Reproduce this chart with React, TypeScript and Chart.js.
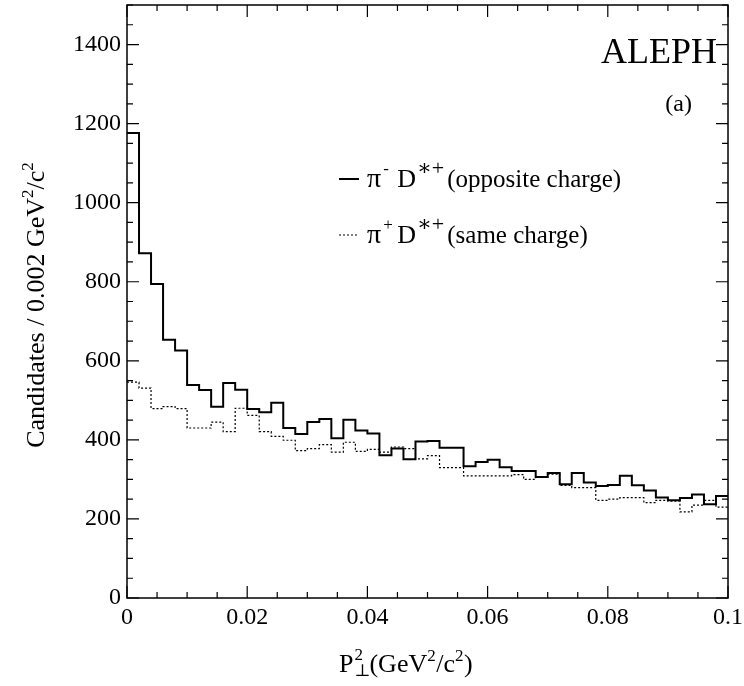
import React, { useEffect, useRef } from "react";
import { Chart, registerables } from "chart.js";
Chart.register(...registerables);

const binEdges: number[] = Array.from({ length: 50 }, (_, i) => +(i * 0.002).toFixed(3));
const oppositeCharge = [1176, 872, 794, 653, 626, 539, 526, 484, 544, 527, 478, 470, 494, 430, 415, 445, 453, 404, 451, 424, 416, 361, 378, 351, 396, 397, 380, 380, 333, 344, 350, 331, 321, 321, 306, 316, 288, 316, 292, 283, 286, 309, 285, 272, 254, 247, 253, 262, 237, 258];
const sameCharge = [546, 531, 479, 484, 479, 430, 430, 445, 421, 480, 462, 421, 409, 399, 373, 378, 388, 369, 394, 371, 376, 369, 382, 378, 352, 360, 330, 330, 309, 309, 309, 309, 312, 300, 306, 313, 285, 279, 279, 247, 250, 254, 254, 241, 247, 245, 218, 235, 247, 230];
const xTicks = [0, 0.02, 0.04, 0.06, 0.08, 0.1];
const xTickLabels = ["0", "0.02", "0.04", "0.06", "0.08", "0.1"];
const yTicks = [0, 200, 400, 600, 800, 1000, 1200, 1400];

const pts = (vals: number[]) => [...vals.map((v, i) => ({ x: binEdges[i], y: v })), { x: 0.1, y: vals[vals.length - 1] }];
const FONT = '"Liberation Serif", "DejaVu Serif", serif';

const deco = {
  id: "deco",
  afterDraw(chart: any) {
    const { ctx, chartArea: a, scales } = chart;
    const xs = scales.x, ys = scales.y;
    ctx.save();
    ctx.strokeStyle = "#000";
    ctx.fillStyle = "#000";
    ctx.lineWidth = 1.5;
    ctx.strokeRect(a.left, a.top, a.right - a.left, a.bottom - a.top);
    ctx.lineWidth = 1.2;
    for (let v = 0; v <= 1500; v += 50) {
      const y = ys.getPixelForValue(v);
      const L = v % 200 === 0 ? 12 : 6;
      ctx.beginPath(); ctx.moveTo(a.left, y); ctx.lineTo(a.left + L, y);
      ctx.moveTo(a.right, y); ctx.lineTo(a.right - L, y); ctx.stroke();
    }
    for (let i = 0; i <= 20; i++) {
      const v = i * 0.005;
      const x = xs.getPixelForValue(v);
      const L = i % 4 === 0 ? 12 : 6;
      ctx.beginPath(); ctx.moveTo(x, a.bottom); ctx.lineTo(x, a.bottom - L);
      ctx.moveTo(x, a.top); ctx.lineTo(x, a.top + L); ctx.stroke();
    }
    ctx.font = `24px ${FONT}`;
    ctx.textAlign = "right"; ctx.textBaseline = "middle";
    yTicks.forEach((v) => ctx.fillText(String(v), a.left - 6, ys.getPixelForValue(v)));
    ctx.textAlign = "center"; ctx.textBaseline = "top";
    xTicks.forEach((v, i) => ctx.fillText(xTickLabels[i], xs.getPixelForValue(v), a.bottom + 8));
    // x title
    ctx.textAlign = "left"; ctx.textBaseline = "alphabetic";
    const B = 26, S = 17;
    let x = 339; const yb = 672;
    ctx.font = `${B}px ${FONT}`; ctx.fillText("P", x, yb); const px = x + ctx.measureText("P").width;
    ctx.font = `${S}px ${FONT}`; ctx.fillText("2", px + 1, yb - 12); ctx.fillText("⊥", px + 1, yb + 4);
    x = px + 16;
    ctx.font = `${B}px ${FONT}`; ctx.fillText("(GeV", x, yb); x += ctx.measureText("(GeV").width;
    ctx.font = `${S}px ${FONT}`; ctx.fillText("2", x, yb - 11); x += 9;
    ctx.font = `${B}px ${FONT}`; ctx.fillText("/c", x, yb); x += ctx.measureText("/c").width;
    ctx.font = `${S}px ${FONT}`; ctx.fillText("2", x, yb - 11); x += 9;
    ctx.font = `${B}px ${FONT}`; ctx.fillText(")", x, yb);
    // y title
    ctx.save();
    ctx.translate(44, 305); ctx.rotate(-Math.PI / 2);
    const parts: [string, boolean][] = [["Candidates / 0.002 GeV", false], ["2", true], ["/c", false], ["2", true]];
    let w = 0;
    parts.forEach(([t, s]) => { ctx.font = `${s ? S : B}px ${FONT}`; w += ctx.measureText(t).width; });
    let cx = -w / 2;
    parts.forEach(([t, s]) => { ctx.font = `${s ? S : B}px ${FONT}`; ctx.fillText(t, cx, s ? -11 : 0); cx += ctx.measureText(t).width; });
    ctx.restore();
    ctx.font = `36px ${FONT}`; ctx.textAlign = "right";
    ctx.fillText("ALEPH", 717, 63);
    ctx.font = `24px ${FONT}`;
    ctx.fillText("(a)", 692, 111);
    const legend = (y: number, dash: number[], sign: string, text: string) => {
      ctx.textAlign = "left";
      ctx.setLineDash(dash); ctx.lineWidth = dash.length ? 1.2 : 2;
      ctx.beginPath(); ctx.moveTo(339, y - 8); ctx.lineTo(359, y - 8); ctx.stroke();
      ctx.setLineDash([]);
      let lx = 367;
      ctx.font = `28px ${FONT}`; ctx.fillText("π", lx, y); lx += ctx.measureText("π").width + 2;
      ctx.font = `17px ${FONT}`; ctx.fillText(sign, lx, y - 13); lx += 14;
      ctx.font = `26px ${FONT}`; ctx.fillText("D", lx, y); lx += ctx.measureText("D").width + 1;
      ctx.font = `22px ${FONT}`; ctx.fillText("∗+", lx, y - 12); lx += ctx.measureText("∗+").width + 3;
      ctx.font = `25px ${FONT}`; ctx.fillText(text, lx, y);
    };
    legend(187, [], "-", "(opposite charge)");
    legend(243, [2, 2], "+", "(same charge)");
    ctx.restore();
  },
};

export default function App() {
  const ref = useRef<HTMLCanvasElement>(null);
  useEffect(() => {
    document.body.style.margin = "0";
    const chart = new Chart(ref.current!, {
      type: "line",
      data: {
        datasets: [
          { data: pts(oppositeCharge), stepped: "before", borderColor: "#000", borderWidth: 2, pointRadius: 0, fill: false },
          { data: pts(sameCharge), stepped: "before", borderColor: "#000", borderWidth: 1.2, borderDash: [2, 2], pointRadius: 0, fill: false },
        ],
      },
      options: {
        animation: false,
        responsive: false,
        layout: { padding: { left: 127, right: 16, top: 5, bottom: 88 } },
        plugins: { legend: { display: false }, tooltip: { enabled: false } },
        scales: {
          x: { type: "linear", min: 0, max: 0.1, display: false },
          y: { min: 0, max: 1500, display: false },
        },
      },
      plugins: [deco],
    });
    return () => chart.destroy();
  }, []);
  return <canvas ref={ref} width={744} height={686} style={{ display: "block" }} />;
}
